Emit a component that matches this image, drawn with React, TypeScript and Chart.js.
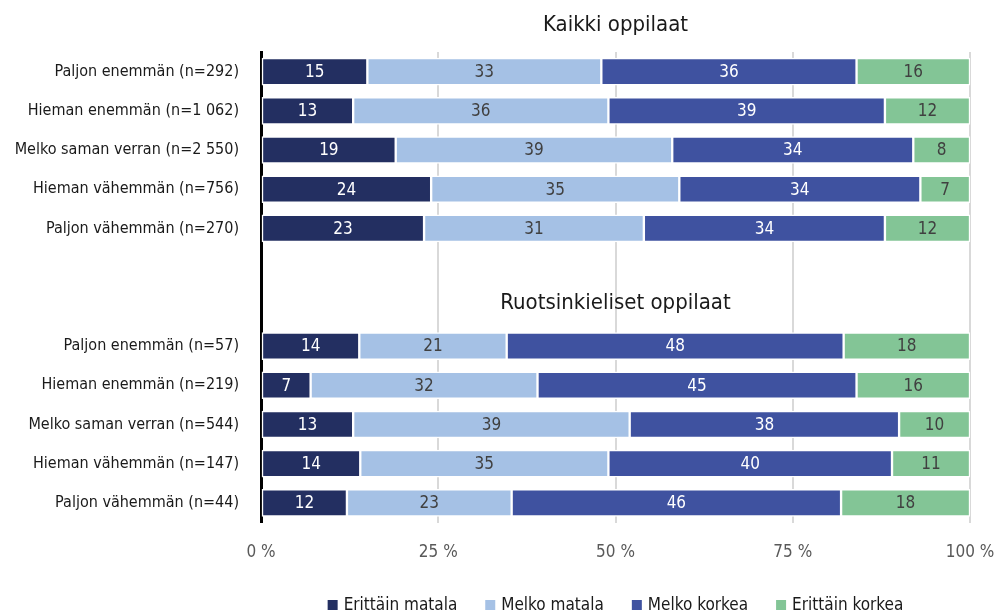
import React, { useEffect, useRef } from "react";
import { Chart, registerables } from "chart.js";

Chart.register(...registerables);

const FONT = "'Liberation Sans Narrow', 'DejaVu Sans Condensed', 'Open Sans', sans-serif";

const categories = [
  "Paljon enemmän (n=292)",
  "Hieman enemmän (n=1 062)",
  "Melko saman verran (n=2 550)",
  "Hieman vähemmän (n=756)",
  "Paljon vähemmän (n=270)",
  "",
  "",
  "Paljon enemmän (n=57)",
  "Hieman enemmän (n=219)",
  "Melko saman verran (n=544)",
  "Hieman vähemmän (n=147)",
  "Paljon vähemmän (n=44)",
];

const seriesNames = ["Erittäin matala", "Melko matala", "Melko korkea", "Erittäin korkea"];
const seriesColors = ["#232f61", "#a5c1e5", "#3f52a0", "#83c596"];
const labelColors = ["#ffffff", "#404040", "#ffffff", "#404040"];

const erittainMatala = [15, 13, 19, 24, 23, null, null, 14, 7, 13, 14, 12];
const melkoMatala = [33, 36, 39, 35, 31, null, null, 21, 32, 39, 35, 23];
const melkoKorkea = [36, 39, 34, 34, 34, null, null, 48, 45, 38, 40, 46];
const erittainKorkea = [16, 12, 8, 7, 12, null, null, 18, 16, 10, 11, 18];

const xTicks = [0, 25, 50, 75, 100];
const groupTitles = ["Kaikki oppilaat", "Ruotsinkieliset oppilaat"];

const rawSeries = [erittainMatala, melkoMatala, melkoKorkea, erittainKorkea];

const totals = categories.map((_, i) =>
  rawSeries.reduce((s, arr) => s + (arr[i] == null ? 0 : (arr[i] as number)), 0)
);

export default function App() {
  const ref = useRef<HTMLCanvasElement | null>(null);

  useEffect(() => {
    if (!ref.current) return;

    const labelsPlugin = {
      id: "segLabels",
      afterDatasetsDraw(chart: any) {
        const ctx = chart.ctx;
        ctx.save();
        ctx.font = `17px ${FONT}`;
        ctx.textAlign = "center";
        ctx.textBaseline = "middle";
        chart.data.datasets.forEach((ds: any, di: number) => {
          const meta = chart.getDatasetMeta(di);
          meta.data.forEach((el: any, i: number) => {
            const v = rawSeries[di][i];
            if (v == null) return;
            const p = el.getProps(["x", "y", "base"], true);
            ctx.fillStyle = labelColors[di];
            ctx.fillText(String(v), (p.x + p.base) / 2, p.y + 1);
          });
        });
        ctx.restore();
      },
      afterDraw(chart: any) {
        const ctx = chart.ctx;
        const ca = chart.chartArea;
        const cx = (ca.left + ca.right) / 2;
        const ys = chart.scales.y;
        ctx.save();
        ctx.fillStyle = "#1a1a1a";
        ctx.font = `22px ${FONT}`;
        ctx.textAlign = "center";
        ctx.textBaseline = "middle";
        ctx.fillText(groupTitles[0], cx, 25);
        ctx.fillText(groupTitles[1], cx, ys.getPixelForValue(6) - 4);

        // legend
        ctx.font = `17px ${FONT}`;
        ctx.textAlign = "left";
        const box = 10;
        const gapBox = 6;
        const gapItem = 28;
        const widths = seriesNames.map((n) => box + gapBox + ctx.measureText(n).width);
        const total = widths.reduce((a, b) => a + b, 0) + gapItem * (seriesNames.length - 1);
        let x = cx - total / 2;
        const ly = 605;
        seriesNames.forEach((n, i) => {
          ctx.fillStyle = seriesColors[i];
          ctx.fillRect(x, ly - box / 2, box, box);
          ctx.fillStyle = "#1a1a1a";
          ctx.fillText(n, x + box + gapBox, ly + 1);
          x += widths[i] + gapItem;
        });
        ctx.restore();
      },
    };

    const chart = new Chart(ref.current, {
      type: "bar",
      data: {
        labels: categories,
        datasets: rawSeries.map((arr, di) => ({
          label: seriesNames[di],
          data: arr.map((v, i) => (v == null ? null : ((v as number) / totals[i]) * 100)),
          backgroundColor: seriesColors[di],
          borderColor: "#ffffff",
          borderWidth: 1.5,
          borderSkipped: false,
          barThickness: 27,
        })),
      },
      options: {
        indexAxis: "y",
        animation: false,
        responsive: true,
        maintainAspectRatio: false,
        layout: { padding: { left: 8, right: 26, top: 52, bottom: 0 } },
        plugins: {
          legend: { display: false },
          tooltip: { enabled: false },
          title: { display: false },
        },
        scales: {
          x: {
            stacked: true,
            min: 0,
            max: 100,
            afterBuildTicks: (s: any) => {
              s.ticks = xTicks.map((v) => ({ value: v }));
            },
            afterFit: (s: any) => {
              s.height = 93.5;
              s.paddingLeft = 0;
              s.paddingRight = 0;
            },
            ticks: {
              callback: (v: any) => `${v} %`,
              font: { family: FONT, size: 17 },
              color: "#595959",
              padding: 20,
            },
            grid: {
              color: "#d9d9d9",
              lineWidth: 2,
              drawTicks: false,
            },
            border: { display: false },
          },
          y: {
            stacked: true,
            afterFit: (s: any) => {
              s.width = 253;
            },
            ticks: {
              font: { family: FONT, size: 16 },
              color: "#1a1a1a",
              padding: 22,
              autoSkip: false,
            },
            grid: { display: false, drawTicks: false },
            border: { display: true, color: "#000000", width: 3 },
          },
        },
      },
      plugins: [labelsPlugin],
    } as any);

    return () => chart.destroy();
  }, []);

  return (
    <div style={{ position: "fixed", left: 0, top: 0, width: 996, height: 616, background: "#fff" }}>
      <canvas ref={ref} />
    </div>
  );
}
